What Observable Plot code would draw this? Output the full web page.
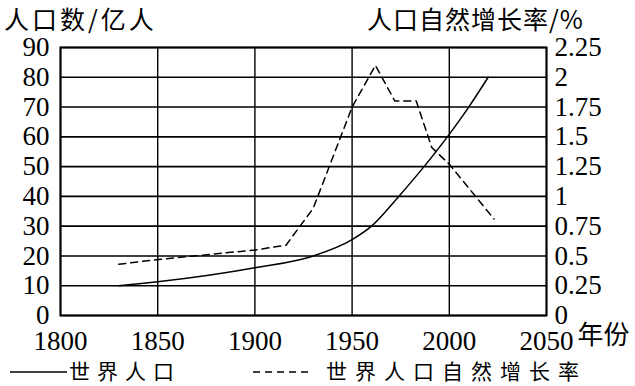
<!DOCTYPE html>
<html>
<head>
<meta charset="utf-8">
<script src="https://cdn.jsdelivr.net/npm/d3@7"></script>
<script src="https://cdn.jsdelivr.net/npm/@observablehq/plot@0.6"></script>
<style>
  html, body { margin: 0; padding: 0; background: #fff; }
  #wrap { position: relative; width: 635px; height: 386px; background: #fff; overflow: hidden; color: #000; }
  .t { position: absolute; font-family: "Noto Sans CJK SC", sans-serif; line-height: 1; white-space: nowrap; }
  #chart { position: absolute; left: 0; top: 36px; }
  #chart svg text { font-family: "Liberation Serif", serif !important; }
  #chart svg text.cjk { font-family: "Noto Sans CJK SC", sans-serif !important; }
  .lg { position: absolute; font-family: "Noto Sans CJK SC", sans-serif; font-size: 21px; line-height: 21px; white-space: nowrap; }
</style>
</head>
<body>
<div id="wrap">
  <div class="t" style="left:4px;top:6px;font-size:25px;letter-spacing:3px;">人口数/亿人</div>
  <div class="t" style="left:367px;top:6px;font-size:25px;letter-spacing:1px;">人口自然增长率/%</div>
  <div id="chart"></div>
  <svg style="position:absolute;left:0;top:360px" width="635" height="26">
    <line x1="10" x2="67" y1="12" y2="12" stroke="#000" stroke-width="1.5"></line>
    <line x1="253" x2="312" y1="12" y2="12" stroke="#000" stroke-width="1.5" stroke-dasharray="7,5"></line>
  </svg>
  <div class="lg" style="left:69px;top:360px;letter-spacing:7px;">世界人口</div>
  <div class="lg" style="left:326px;top:360px;letter-spacing:8px;">世界人口自然增长率</div>
</div>
<script>
// World population (亿人)
const popYears = [1830, 1850, 1900, 1930, 1950, 1960, 1974, 1987, 1999, 2010, 2020];
const population = [10, 11.3, 16, 20, 25.5, 30, 40, 50, 60, 70, 80];
// Natural growth rate (%)
const rateYears = [1830, 1850, 1900, 1916, 1930, 1950, 1962, 1972, 1983, 1991, 2000, 2023];
const rates = [0.43, 0.47, 0.55, 0.59, 0.9, 1.75, 2.1, 1.8, 1.8, 1.41, 1.27, 0.81];
// Axes
const xTicks = [1800, 1850, 1900, 1950, 2000, 2050];
const yTicks = [0, 10, 20, 30, 40, 50, 60, 70, 80, 90];
const rateTicks = [0, 0.25, 0.5, 0.75, 1, 1.25, 1.5, 1.75, 2, 2.25];
const xUnit = "年份";

const k = 90 / 2.25; // rate -> left scale factor
const popData = popYears.map((x, i) => ({x, v: population[i]}));
const rateData = rateYears.map((x, i) => ({x, v: rates[i]}));

const chart = Plot.plot({
  width: 635,
  height: 320,
  marginLeft: 60,
  marginRight: 89,
  marginTop: 11,
  marginBottom: 41,
  style: {background: "transparent", color: "#000", overflow: "visible"},
  x: {domain: [1800, 2050]},
  y: {domain: [0, 90]},
  marks: [
    Plot.gridY(yTicks, {stroke: "#000", strokeOpacity: 1, strokeWidth: 1.6}),
    Plot.gridX(xTicks, {stroke: "#000", strokeOpacity: 1, strokeWidth: 1.4}),
    Plot.frame({stroke: "#000", strokeWidth: 2}),
    Plot.axisY(yTicks, {anchor: "left", tickSize: 0, tickPadding: 11, fontSize: 27, label: null}),
    Plot.axisY(rateTicks.map(r => r * k), {anchor: "right", tickSize: 0, tickPadding: 8, fontSize: 27, label: null, tickFormat: d => String(d / k)}),
    Plot.axisX(xTicks, {anchor: "bottom", tickSize: 0, tickPadding: 15, fontSize: 27, label: null, tickFormat: d => String(d)}),
    Plot.text([xUnit], {x: [xTicks[xTicks.length - 1]], frameAnchor: "bottom", lineAnchor: "top", textAnchor: "start", dx: 31, dy: 10, fontSize: 26, className: "cjkunit"}),
    Plot.line(popData, {x: "x", y: "v", curve: "monotone-x", stroke: "#000", strokeWidth: 1.5}),
    Plot.line(rateData, {x: "x", y: d => d.v * k, stroke: "#000", strokeWidth: 1.5, strokeDasharray: "7,5"})
  ]
});
chart.querySelectorAll(".cjkunit text").forEach(t => t.classList.add("cjk"));
document.getElementById("chart").appendChild(chart);
</script>
</body>
</html>
